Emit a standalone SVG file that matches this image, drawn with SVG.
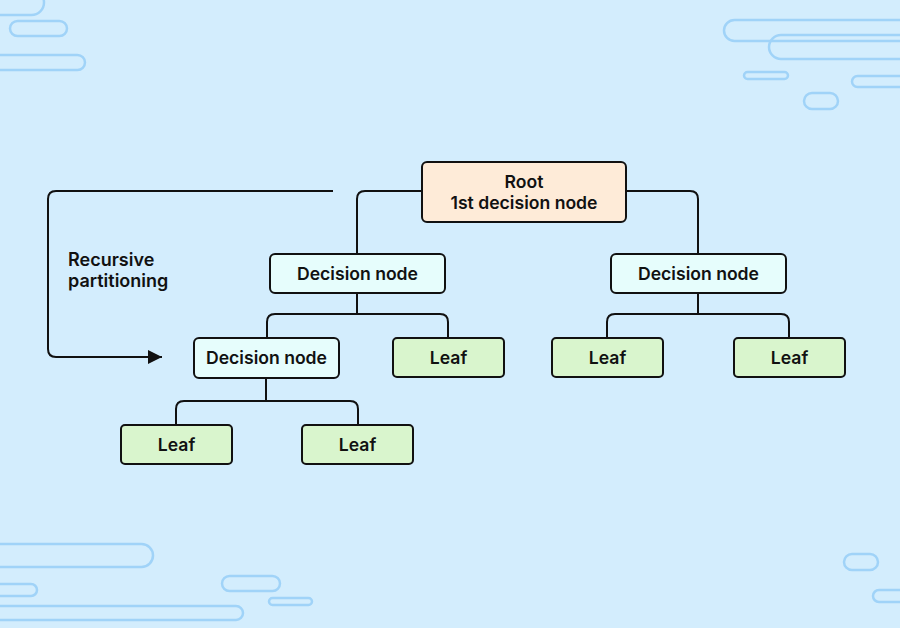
<svg xmlns="http://www.w3.org/2000/svg" width="900" height="628" viewBox="0 0 900 628">
<style>
.bg{fill:#d3edfd}
.pill{fill:none;stroke:#a0d3f8;stroke-width:2.5}
.node{stroke:#111;stroke-width:2}
.root{fill:#feebd8}
.dec{fill:#e6fdfc}
.leaf{fill:#d9f5cd}
.conn{fill:none;stroke:#111;stroke-width:2}
text{font-family:Inter,"Liberation Sans",sans-serif;font-weight:600;font-size:17.6px;fill:#111}
.c{text-anchor:middle}
.lbl{font-size:18px}
</style>
<defs>
<marker id="arr" markerWidth="14" markerHeight="14" refX="14" refY="7" orient="auto" markerUnits="userSpaceOnUse">
<path d="M0,0 L14,7 L0,14 Z" fill="#111"/>
</marker>
</defs>
<rect class="bg" x="0" y="0" width="900" height="628"/>
<g id="decor">
<rect class="pill" x="-30" y="-10" width="74" height="25" rx="12.5"/>
<rect class="pill" x="10" y="21" width="57" height="15" rx="7.5"/>
<rect class="pill" x="-30" y="55" width="115" height="15" rx="7.5"/>
<rect class="pill" x="724" y="20" width="200" height="21" rx="10.5"/>
<rect class="pill" x="769" y="35" width="160" height="24" rx="12"/>
<rect class="pill" x="744" y="72" width="44" height="7" rx="3.5"/>
<rect class="pill" x="852" y="76" width="70" height="11" rx="5.5"/>
<rect class="pill" x="804" y="93" width="34" height="16" rx="8"/>
<rect class="pill" x="-30" y="544" width="183" height="23" rx="11.5"/>
<rect class="pill" x="-30" y="584" width="67" height="12" rx="6"/>
<rect class="pill" x="-30" y="606" width="273" height="14" rx="7"/>
<rect class="pill" x="222" y="576" width="58" height="15" rx="7.5"/>
<rect class="pill" x="269" y="598" width="43" height="7" rx="3.5"/>
<rect class="pill" x="844" y="554" width="34" height="16" rx="8"/>
<rect class="pill" x="873" y="590" width="50" height="12" rx="6"/>
</g>
<g id="connectors">
<path class="conn" d="M422,191 H365 Q357,191 357,199 V254"/>
<path class="conn" d="M626,191 H690 Q698,191 698,199 V254"/>
<path class="conn" d="M357,293 V314 M275,314 H440 Q448,314 448,322 V338 M275,314 Q267,314 267,322 V338"/>
<path class="conn" d="M698,293 V314 M615,314 H781 Q789,314 789,322 V338 M615,314 Q607,314 607,322 V338"/>
<path class="conn" d="M266,378 V401 M184,401 H350 Q358,401 358,409 V425 M184,401 Q176,401 176,409 V425"/>
<path class="conn" d="M333,191 H56 Q48,191 48,199 V349 Q48,357 56,357 H162" marker-end="url(#arr)"/>
</g>
<g id="label-recursive">
<text class="lbl" x="68" y="266">Recursive</text>
<text class="lbl" x="68" y="287">partitioning</text>
</g>
<g id="root">
<rect class="node root" x="422" y="162" width="204" height="60" rx="5"/>
<text class="c" x="524" y="188">Root</text>
<text class="c" x="524" y="209">1st decision node</text>
</g>
<g id="dec-left">
<rect class="node dec" x="270" y="254" width="175" height="39" rx="5"/>
<text class="c" x="357.5" y="279.5">Decision node</text>
</g>
<g id="dec-right">
<rect class="node dec" x="611" y="254" width="175" height="39" rx="5"/>
<text class="c" x="698.5" y="279.5">Decision node</text>
</g>
<g id="dec-lower">
<rect class="node dec" x="194" y="338" width="145" height="40" rx="5"/>
<text class="c" x="266.5" y="364">Decision node</text>
</g>
<g id="leaf-1">
<rect class="node leaf" x="393" y="338" width="111" height="39" rx="4"/>
<text class="c" x="448.5" y="363.5">Leaf</text>
</g>
<g id="leaf-2">
<rect class="node leaf" x="552" y="338" width="111" height="39" rx="4"/>
<text class="c" x="607.5" y="363.5">Leaf</text>
</g>
<g id="leaf-3">
<rect class="node leaf" x="734" y="338" width="111" height="39" rx="4"/>
<text class="c" x="789.5" y="363.5">Leaf</text>
</g>
<g id="leaf-4">
<rect class="node leaf" x="121" y="425" width="111" height="39" rx="4"/>
<text class="c" x="176.5" y="450.5">Leaf</text>
</g>
<g id="leaf-5">
<rect class="node leaf" x="302" y="425" width="111" height="39" rx="4"/>
<text class="c" x="357.5" y="450.5">Leaf</text>
</g>
</svg>
